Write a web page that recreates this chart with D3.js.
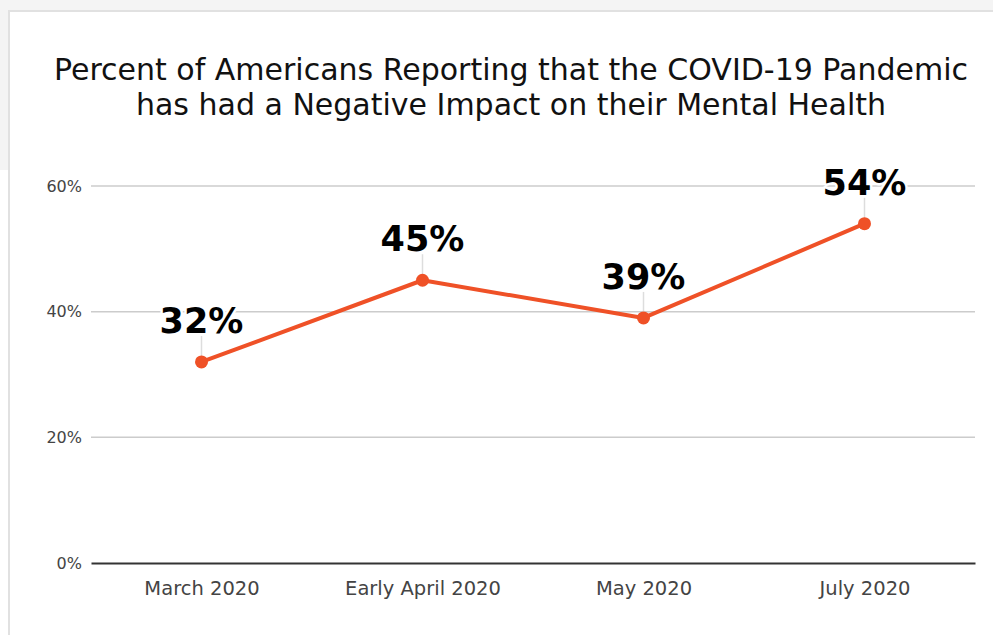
<!DOCTYPE html>
<html>
<head>
<meta charset="utf-8">
<script src="https://cdn.jsdelivr.net/npm/d3@7"></script>
<style>
  html, body { margin: 0; padding: 0; background: #ffffff; }
  svg { display: block; }
  svg text { font-family: "DejaVu Sans", Verdana, sans-serif; }
</style>
</head>
<body>
<svg id="chart" width="993" height="635"></svg>
<script>
// Survey waves and share of respondents reporting a negative mental-health impact
const categories = ["March 2020", "Early April 2020", "May 2020", "July 2020"];
const values = [32, 45, 39, 54];
const yTicks = [0, 20, 40, 60];
const titleLines = [
  "Percent of Americans Reporting that the COVID-19 Pandemic",
  "has had a Negative Impact on their Mental Health"
];

const W = 993, H = 635;
const lineColor = "#ef5127";

const svg = d3.select("#chart");

// page backdrop and card frame
svg.append("rect").attr("x", 0).attr("y", 0).attr("width", W).attr("height", H).attr("fill", "#f4f4f4");
svg.append("rect").attr("x", 0).attr("y", 170).attr("width", 10).attr("height", H - 170).attr("fill", "#ffffff");
svg.append("rect").attr("x", 9).attr("y", 11).attr("width", W + 10).attr("height", H + 10)
  .attr("fill", "#ffffff").attr("stroke", "#e1e1e1").attr("stroke-width", 2);

// title
svg.append("text")
  .attr("x", 511).attr("y", 80)
  .attr("text-anchor", "middle")
  .attr("font-size", 30).attr("fill", "#111")
  .selectAll("tspan").data(titleLines).join("tspan")
  .attr("x", 511).attr("dy", (d, i) => i === 0 ? 0 : 35)
  .text(d => d);

const x = d3.scalePoint().domain(categories).range([91, 975]).padding(0.5);
const y = d3.scaleLinear().domain([0, 60]).range([563, 186]);

// horizontal grid lines
svg.append("g")
  .selectAll("line").data(yTicks.filter(t => t > 0)).join("line")
  .attr("x1", 91).attr("x2", 975)
  .attr("y1", d => y(d)).attr("y2", d => y(d))
  .attr("stroke", "#cccccc").attr("stroke-width", 1.5);

// y axis labels
const yAxis = d3.axisLeft(y).tickValues(yTicks).tickSize(0).tickPadding(9).tickFormat(d => d + "%");
const gy = svg.append("g").attr("transform", "translate(91,0)").call(yAxis);
gy.attr("font-family", null);
gy.select(".domain").remove();
gy.selectAll("text").attr("font-size", 16).attr("fill", "#444");

// baseline axis
const xAxis = d3.axisBottom(x).tickSize(0).tickPadding(18);
const gx = svg.append("g").attr("transform", "translate(0,563)").call(xAxis);
gx.attr("font-family", null);
gx.select(".domain").attr("stroke", "#333").attr("stroke-width", 2);
gx.selectAll("text").attr("font-size", 19.5).attr("fill", "#444");

// leader lines from labels to points
svg.append("g")
  .selectAll("line").data(values).join("line")
  .attr("x1", (d, i) => x(categories[i])).attr("x2", (d, i) => x(categories[i]))
  .attr("y1", d => y(d) - 26).attr("y2", d => y(d))
  .attr("stroke", "#dddddd").attr("stroke-width", 1.5);

// series line
const line = d3.line().x((d, i) => x(categories[i])).y(d => y(d));
svg.append("path").datum(values)
  .attr("d", line).attr("fill", "none")
  .attr("stroke", lineColor).attr("stroke-width", 4).attr("stroke-linejoin", "round");

svg.append("g")
  .selectAll("circle").data(values).join("circle")
  .attr("cx", (d, i) => x(categories[i])).attr("cy", d => y(d))
  .attr("r", 6.5).attr("fill", lineColor);

// value labels with white halo
svg.append("g")
  .selectAll("text").data(values).join("text")
  .attr("x", (d, i) => x(categories[i])).attr("y", d => y(d) - 29)
  .attr("text-anchor", "middle")
  .attr("font-size", 35).attr("font-weight", "bold")
  .attr("fill", "#000").attr("stroke", "#ffffff").attr("stroke-width", 5)
  .attr("paint-order", "stroke").attr("stroke-linejoin", "round")
  .text(d => d + "%");
</script>
</body>
</html>
